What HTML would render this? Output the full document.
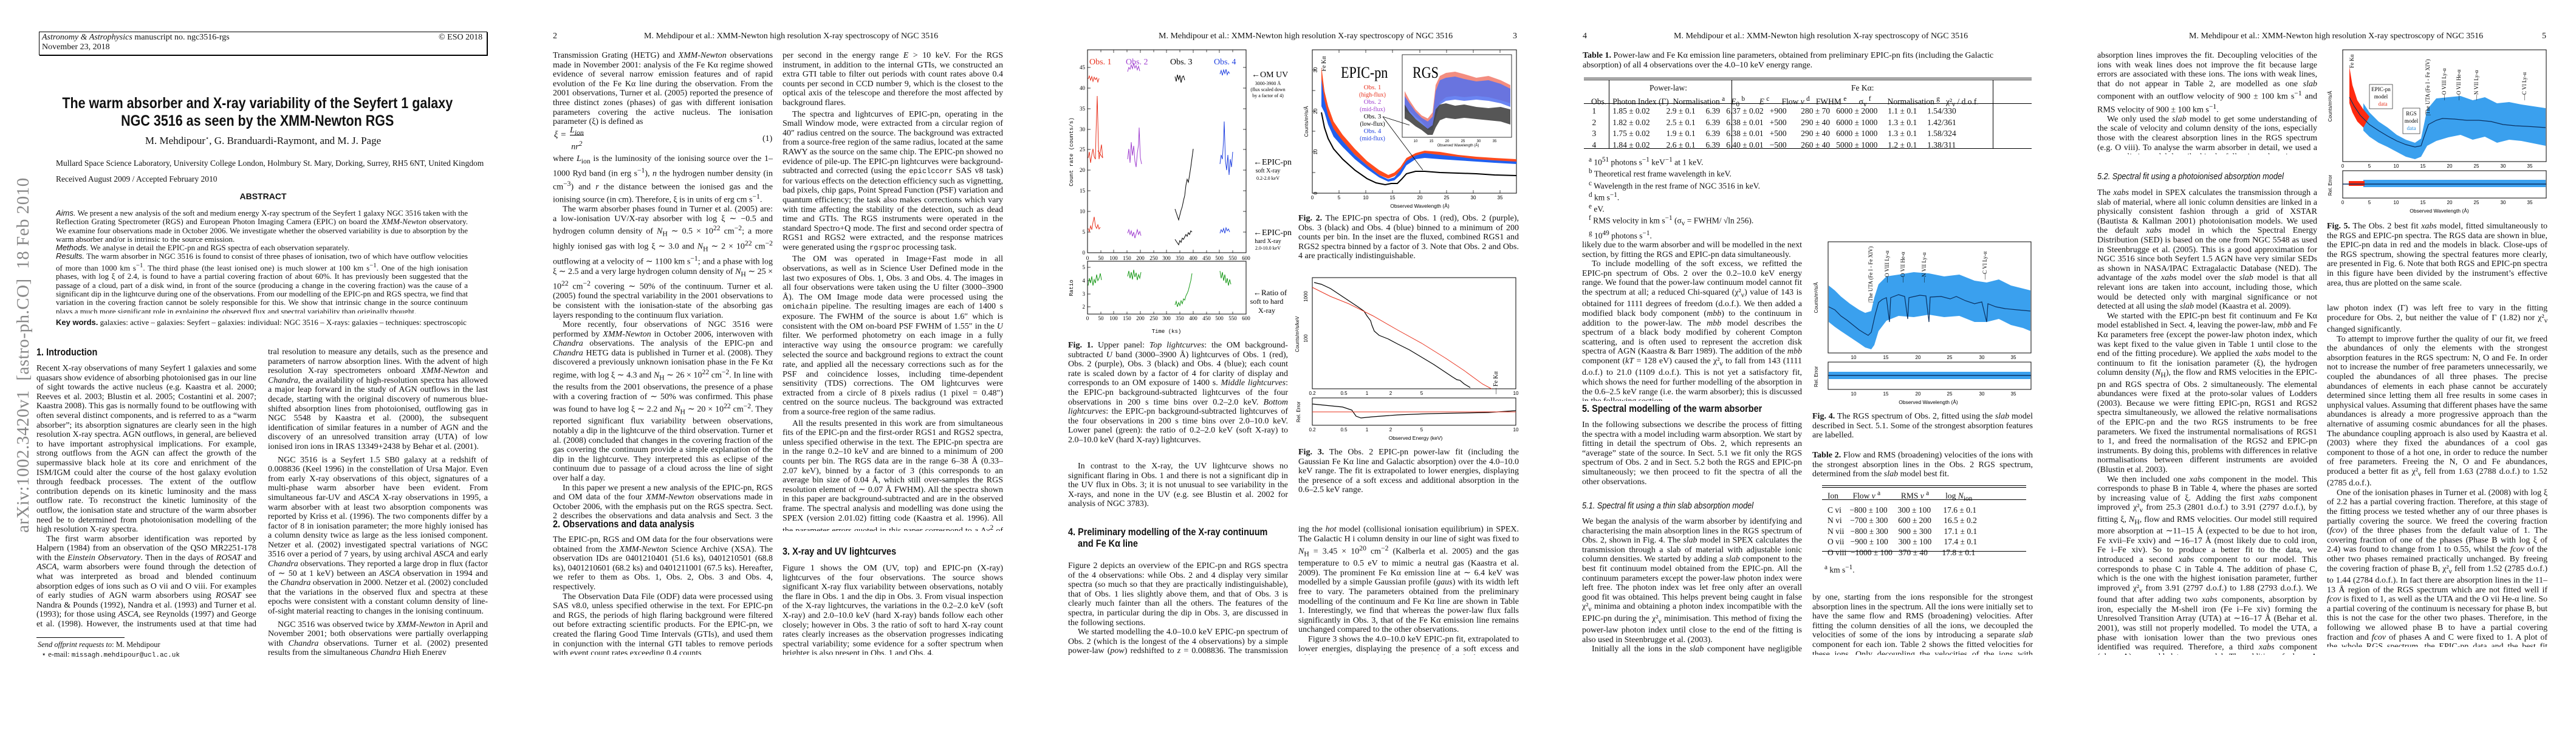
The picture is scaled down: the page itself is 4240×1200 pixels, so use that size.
<!DOCTYPE html>
<html><head><meta charset="utf-8">
<style>
html,body{margin:0;padding:0;background:#fff}
body{width:4240px;height:1200px;position:relative;overflow:hidden;font-family:"Liberation Serif",serif;color:#111}
.a{position:absolute}
.t{position:absolute;font-size:14px;line-height:15.6px;text-align:justify;overflow:hidden;hyphens:auto}
.t p{margin:0;text-indent:16px}
.t p.n{text-indent:0}
.h{position:absolute;font-family:"Liberation Sans",sans-serif;font-weight:bold;font-size:17px;transform:scaleX(0.85);transform-origin:left top;white-space:nowrap}
.hs{position:absolute;font-family:"Liberation Sans",sans-serif;font-style:italic;font-size:15px;transform:scaleX(0.85);transform-origin:left top;white-space:nowrap}
.hd{position:absolute;font-size:14px;top:52px;white-space:nowrap}
.cap{position:absolute;font-size:14px;line-height:15.6px;text-align:justify}
.sm{font-size:11px;font-family:"Liberation Sans",sans-serif}
svg{position:absolute;overflow:visible}
</style></head><body>

<!-- ================= PAGE 1 ================= -->
<div class="a" style="left:64px;top:52px;width:736px;height:37px;border:1.5px solid #000;box-shadow:1px 1px 0 #000"></div>
<div class="a" style="left:69px;top:54px;font-size:14px;line-height:16px"><i>Astronomy &amp; Astrophysics</i> manuscript no. ngc3516-rgs<br>November 23, 2018</div>
<div class="a" style="left:722px;top:54px;font-size:14px">© ESO 2018</div>
<div class="a" style="left:24px;top:321px;width:0;height:0">
 <div style="position:absolute;left:0;top:0;transform:translate(-2px,556px) rotate(-90deg);transform-origin:left top;font-size:29px;color:#888;white-space:nowrap;letter-spacing:0.5px">arXiv:1002.3420v1&nbsp; [astro-ph.CO]&nbsp; 18 Feb 2010</div>
</div>
<div class="a" style="left:0;width:848px;top:156px;text-align:center;font-family:'Liberation Sans',sans-serif;font-weight:bold;font-size:25px;line-height:29px"><span style="display:inline-block;transform:scaleX(0.86)">The warm absorber and X-ray variability of the Seyfert 1 galaxy<br>NGC 3516 as seen by the XMM-Newton RGS</span></div>
<div class="a" style="left:0;width:866px;top:222px;text-align:center;font-size:17px">M. Mehdipour<sup style="font-size:10px">⋆</sup>, G. Branduardi-Raymont, and M. J. Page</div>
<div class="a" style="left:92px;top:261px;font-size:13.5px">Mullard Space Science Laboratory, University College London, Holmbury St. Mary, Dorking, Surrey, RH5 6NT, United Kingdom</div>
<div class="a" style="left:92px;top:287px;font-size:13.5px">Received August 2009 / Accepted February 2010</div>
<div class="a" style="left:0;width:866px;top:315px;text-align:center;font-family:'Liberation Sans',sans-serif;font-weight:bold;font-size:14px">ABSTRACT</div>
<div class="t" style="left:92px;top:344px;width:678px;height:172px;font-size:13px;line-height:14.3px">
<p class="n"><i style="font-family:'Liberation Sans'">Aims.</i> We present a new analysis of the soft and medium energy X-ray spectrum of the Seyfert 1 galaxy NGC 3516 taken with the Reflection Grating Spectrometer (RGS) and European Photon Imaging Camera (EPIC) on board the <i>XMM-Newton</i> observatory. We examine four observations made in October 2006. We investigate whether the observed variability is due to absorption by the warm absorber and/or is intrinsic to the source emission.</p>
<p class="n"><i style="font-family:'Liberation Sans'">Methods.</i> We analyse in detail the EPIC-pn and RGS spectra of each observation separately.</p>
<p class="n"><i style="font-family:'Liberation Sans'">Results.</i> The warm absorber in NGC 3516 is found to consist of three phases of ionisation, two of which have outflow velocities of more than 1000 km s<sup>−1</sup>. The third phase (the least ionised one) is much slower at 100 km s<sup>−1</sup>. One of the high ionisation phases, with log ξ of 2.4, is found to have a partial covering fraction of about 60%. It has previously been suggested that the passage of a cloud, part of a disk wind, in front of the source (producing a change in the covering fraction) was the cause of a significant dip in the lightcurve during one of the observations. From our modelling of the EPIC-pn and RGS spectra, we find that variation in the covering fraction cannot be solely responsible for this. We show that intrinsic change in the source continuum plays a much more significant role in explaining the observed flux and spectral variability than originally thought.</p></div>
<div class="a" style="left:92px;top:523px;font-size:13px"><b style="font-family:'Liberation Sans'">Key words.</b> galaxies: active – galaxies: Seyfert – galaxies: individual: NGC 3516 – X-rays: galaxies – techniques: spectroscopic</div>
<div class="h" style="left:60px;top:570px">1. Introduction</div>
<div class="t" style="left:60px;top:599px;width:362px;height:437px">
<p class="n">Recent X-ray observations of many Seyfert 1 galaxies and some quasars show evidence of absorbing photoionised gas in our line of sight towards the active nucleus (e.g. Kaastra et al. 2000; Reeves et al. 2003; Blustin et al. 2005; Costantini et al. 2007; Kaastra 2008). This gas is normally found to be outflowing with often several distinct components, and is referred to as a “warm absorber”; its absorption signatures are clearly seen in the high resolution X-ray spectra. AGN outflows, in general, are believed to have important astrophysical implications. For example, strong outflows from the AGN can affect the growth of the supermassive black hole at its core and enrichment of the ISM/IGM could alter the course of the host galaxy evolution through feedback processes. The extent of the outflow contribution depends on its kinetic luminosity and the mass outflow rate. To reconstruct the kinetic luminosity of the outflow, the ionisation state and structure of the warm absorber need be to determined from photoionisation modelling of the high resolution X-ray spectra.</p>
<p>The first warm absorber identification was reported by Halpern (1984) from an observation of the QSO MR2251-178 with the <i>Einstein Observatory</i>. Then in the days of <i>ROSAT</i> and <i>ASCA</i>, warm absorbers were found through the detection of what was interpreted as broad and blended continuum absorption edges of ions such as O vii and O viii. For examples of early studies of AGN warm absorbers using <i>ROSAT</i> see Nandra &amp; Pounds (1992), Nandra et al. (1993) and Turner et al. (1993); for those using <i>ASCA</i>, see Reynolds (1997) and George et al. (1998). However, the instruments used at that time had insufficient spec-</p></div>
<div class="a" style="left:60px;top:1049px;width:145px;border-top:1px solid #000"></div>
<div class="a" style="left:62px;top:1053px;font-size:12.5px;line-height:16px"><i>Send offprint requests to</i>: M. Mehdipour<br>&nbsp;&nbsp;⋆ e-mail: <span style="font-family:'Liberation Mono';font-size:11px">missagh.mehdipour@ucl.ac.uk</span></div>
<div class="t" style="left:441px;top:572px;width:362px;height:506px">
<p class="n">tral resolution to measure any details, such as the presence and parameters of narrow absorption lines. With the advent of high resolution X-ray spectrometers onboard <i>XMM-Newton</i> and <i>Chandra</i>, the availability of high-resolution spectra has allowed a major leap forward in the study of AGN outflows in the last decade, starting with the original discovery of numerous blue-shifted absorption lines from photoionised, outflowing gas in NGC 5548 by Kaastra et al. (2000), the subsequent identification of similar features in a number of AGN and the discovery of an unresolved transition array (UTA) of low ionised iron ions in IRAS 13349+2438 by Behar et al. (2001).</p>
<p style="margin-top:6px">NGC 3516 is a Seyfert 1.5 SB0 galaxy at a redshift of 0.008836 (Keel 1996) in the constellation of Ursa Major. Even from early X-ray observations of this object, signatures of a multi-phase warm absorber have been evident. From simultaneous far-UV and <i>ASCA</i> X-ray observations in 1995, a warm absorber with at least two absorption components was reported by Kriss et al. (1996). The two components differ by a factor of 8 in ionisation parameter; the more highly ionised has a column density twice as large as the less ionised component. Netzer et al. (2002) investigated spectral variations of NGC 3516 over a period of 7 years, by using archival <i>ASCA</i> and early <i>Chandra</i> observations. They reported a large drop in flux (factor of ∼ 50 at 1 keV) between an <i>ASCA</i> observation in 1994 and the <i>Chandra</i> observation in 2000. Netzer et al. (2002) concluded that the variations in the observed flux and spectra at these epochs were consistent with a constant column density of line-of-sight material reacting to changes in the ionising continuum.</p>
<p style="margin-top:6px">NGC 3516 was observed twice by <i>XMM-Newton</i> in April and November 2001; both observations were partially overlapping with <i>Chandra</i> observations. Turner et al. (2002) presented results from the simultaneous <i>Chandra</i> High Energy</p></div>

<!-- ================= PAGE 2 ================= -->
<div class="hd" style="left:910px">2</div>
<div class="hd" style="left:1060px">M. Mehdipour et al.: XMM-Newton high resolution X-ray spectroscopy of NGC 3516</div>
<div class="t" style="left:910px;top:84px;width:362px;height:125px">
<p class="n">Transmission Grating (HETG) and <i>XMM-Newton</i> observations made in November 2001: analysis of the Fe Kα regime showed evidence of several narrow emission features and of rapid evolution of the Fe Kα line during the observation. From the 2001 observations, Turner et al. (2005) reported the presence of three distinct zones (phases) of gas with different ionisation parameters covering the active nucleus. The ionisation parameter (ξ) is defined as</p></div>
<div class="a" style="left:912px;top:214px;font-size:15px;font-style:italic">ξ =</div>
<div class="a" style="left:938px;top:206px;font-size:14px;font-style:italic;text-align:center;line-height:18px"><span style="border-bottom:1px solid #000">L<sub>ion</sub></span><br>nr<sup>2</sup></div>
<div class="a" style="left:1255px;top:221px;font-size:14px">(1)</div>
<div class="t" style="left:910px;top:254px;width:362px;height:600px">
<p class="n">where <i>L</i><sub>ion</sub> is the luminosity of the ionising source over the 1–1000 Ryd band (in erg s<sup>−1</sup>), <i>n</i> the hydrogen number density (in cm<sup>−3</sup>) and <i>r</i> the distance between the ionised gas and the ionising source (in cm). Therefore, ξ is in units of erg cm s<sup>−1</sup>.</p>
<p>The warm absorber phases found in Turner et al. (2005) are: a low-ionisation UV/X-ray absorber with log ξ ∼ −0.5 and hydrogen column density of <i>N</i><sub>H</sub> ∼ 0.5 × 10<sup>22</sup> cm<sup>−2</sup>; a more highly ionised gas with log ξ ∼ 3.0 and <i>N</i><sub>H</sub> ∼ 2 × 10<sup>22</sup> cm<sup>−2</sup> outflowing at a velocity of ∼ 1100 km s<sup>−1</sup>; and a phase with log ξ ∼ 2.5 and a very large hydrogen column density of <i>N</i><sub>H</sub> ∼ 25 × 10<sup>22</sup> cm<sup>−2</sup> covering ∼ 50% of the continuum. Turner et al. (2005) found the spectral variability in the 2001 observations to be consistent with the ionisation-state of the absorbing gas layers responding to the continuum flux variation.</p>
<p>More recently, four observations of NGC 3516 were performed by <i>XMM-Newton</i> in October 2006, interwoven with <i>Chandra</i> observations. The analysis of the EPIC-pn and <i>Chandra</i> HETG data is published in Turner et al. (2008). They discovered a previously unknown ionisation phase in the Fe Kα regime, with log ξ ∼ 4.3 and <i>N</i><sub>H</sub> ∼ 26 × 10<sup>22</sup> cm<sup>−2</sup>. In line with the results from the 2001 observations, the presence of a phase with a covering fraction of ∼ 50% was confirmed. This phase was found to have log ξ ∼ 2.2 and <i>N</i><sub>H</sub> ∼ 20 × 10<sup>22</sup> cm<sup>−2</sup>. They reported significant flux variability between observations, notably a dip in the lightcurve of the third observation. Turner et al. (2008) concluded that changes in the covering fraction of the gas covering the continuum provide a simple explanation of the dip in the lightcurve. They interpreted this as eclipse of the continuum due to passage of a cloud across the line of sight over half a day.</p>
<p>In this paper we present a new analysis of the EPIC-pn, RGS and OM data of the four <i>XMM-Newton</i> observations made in October 2006, with the emphasis put on the RGS spectra. Sect. 2 describes the observations and data analysis and Sect. 3 the lightcurves; the spectral modelling is described in Sects. 4 and 5 and we discuss our findings in Sect. 6 and give conclusions in Sect. 7.</p></div>
<div class="h" style="left:910px;top:853px">2. Observations and data analysis</div>
<div class="t" style="left:910px;top:881px;width:362px;height:197px">
<p class="n">The EPIC-pn, RGS and OM data for the four observations were obtained from the <i>XMM-Newton</i> Science Archive (XSA). The observation IDs are 0401210401 (51.6 ks), 0401210501 (68.8 ks), 0401210601 (68.2 ks) and 0401211001 (67.5 ks). Hereafter, we refer to them as Obs. 1, Obs. 2, Obs. 3 and Obs. 4, respectively.</p>
<p>The Observation Data File (ODF) data were processed using SAS v8.0, unless specified otherwise in the text. For EPIC-pn and RGS, the periods of high flaring background were filtered out before extracting scientific products. For the EPIC-pn, we created the flaring Good Time Intervals (GTIs), and used them in conjunction with the internal GTI tables to remove periods with event count rates exceeding 0.4 counts</p></div>
<div class="t" style="left:1288px;top:84px;width:363px;height:790px">
<p class="n">per second in the energy range <i>E</i> &gt; 10 keV. For the RGS instrument, in addition to the internal GTIs, we constructed an extra GTI table to filter out periods with count rates above 0.4 counts per second in CCD number 9, which is the closest to the optical axis of the telescope and therefore the most affected by background flares.</p>
<p style="margin-top:3px">The spectra and lightcurves of EPIC-pn, operating in the Small Window mode, were extracted from a circular region of 40″ radius centred on the source. The background was extracted from a source-free region of the same radius, located at the same RAWY as the source on the same chip. The EPIC-pn showed no evidence of pile-up. The EPIC-pn lightcurves were background-subtracted and corrected (using the <span style="font-family:'Liberation Mono';font-size:12px">epiclccorr</span> SAS v8 task) for various effects on the detection efficiency such as vignetting, bad pixels, chip gaps, Point Spread Function (PSF) variation and quantum efficiency; the task also makes corrections which vary with time affecting the stability of the detection, such as dead time and GTIs. The RGS instruments were operated in the standard Spectro+Q mode. The first and second order spectra of RGS1 and RGS2 were extracted, and the response matrices were generated using the <span style="font-family:'Liberation Mono';font-size:12px">rgsproc</span> processing task.</p>
<p style="margin-top:3px">The OM was operated in Image+Fast mode in all observations, as well as in Science User Defined mode in the last two exposures of Obs. 1, Obs. 3 and Obs. 4. The images in all four observations were taken using the U filter (3000–3900 Å). The OM Image mode data were processed using the <span style="font-family:'Liberation Mono';font-size:12px">omichain</span> pipeline. The resulting images are each of 1400 s exposure. The FWHM of the source is about 1.6″ which is consistent with the OM on-board PSF FWHM of 1.55″ in the <i>U</i> filter. We performed photometry on each image in a fully interactive way using the <span style="font-family:'Liberation Mono';font-size:12px">omsource</span> program: we carefully selected the source and background regions to extract the count rate, and applied all the necessary corrections such as for the PSF and coincidence losses, including time-dependent sensitivity (TDS) corrections. The OM lightcurves were extracted from a circle of 8 pixels radius (1 pixel = 0.48″) centred on the source nucleus. The background was extracted from a source-free region of the same radius.</p>
<p style="margin-top:3px">All the results presented in this work are from simultaneous fits of the EPIC-pn and the first-order RGS1 and RGS2 spectra, unless specified otherwise in the text. The EPIC-pn spectra are in the range 0.2–10 keV and are binned to a minimum of 200 counts per bin. The RGS data are in the range 6–38 Å (0.33–2.07 keV), binned by a factor of 3 (this corresponds to an average bin size of 0.04 Å, which still over-samples the RGS resolution element of ∼ 0.07 Å FWHM). All the spectra shown in this paper are background-subtracted and are in the observed frame. The spectral analysis and modelling was done using the SPEX (version 2.01.02) fitting code (Kaastra et al. 1996). All the parameter errors quoted in this paper correspond to a Δχ<sup>2</sup> of 2.</p></div>
<div class="h" style="left:1288px;top:898px">3. X-ray and UV lightcurves</div>
<div class="t" style="left:1288px;top:928px;width:363px;height:150px">
<p class="n">Figure 1 shows the OM (UV, top) and EPIC-pn (X-ray) lightcurves of the four observations. The source shows significant X-ray flux variability between observations, notably the flare in Obs. 1 and the dip in Obs. 3. From visual inspection of the X-ray lightcurves, the variations in the 0.2–2.0 keV (soft X-ray) and 2.0–10.0 keV (hard X-ray) bands follow each other closely; however in Obs. 3 the ratio of soft to hard X-ray count rates clearly increases as the observation progresses indicating spectral variability; some evidence for a softer spectrum when brighter is also present in Obs. 1 and Obs. 4.</p></div>

<!-- ================= PAGE 3 ================= -->
<div class="hd" style="left:1907px">M. Mehdipour et al.: XMM-Newton high resolution X-ray spectroscopy of NGC 3516</div>
<div class="hd" style="left:2490px">3</div>
<!-- Fig 1 -->
<svg style="left:0;top:0" width="4240" height="1200">
<g fill="none" stroke="#000" stroke-width="1">
<rect x="1790" y="82" width="261" height="334"/>
<rect x="1790" y="430" width="261" height="87"/>
</g>
<g stroke="#000" stroke-width="0.7">
<path d="M1790 416v-5M1812 416v-4M1833 416v-5M1855 416v-4M1877 416v-5M1899 416v-4M1920 416v-5M1942 416v-4M1964 416v-5M1986 416v-4M2007 416v-5M2029 416v-4M1790 82v5M1812 82v4M1833 82v5M1855 82v4M1877 82v5M1899 82v4M1920 82v5M1942 82v4M1964 82v5M1986 82v4M2007 82v5M2029 82v4"/>
<path d="M1790 382h5M1790 348h5M1790 314h5M1790 280h5M1790 246h5M1790 213h5M1790 179h5M1790 145h5M1790 111h5M2051 382h-5M2051 348h-5M2051 314h-5M2051 280h-5M2051 246h-5M2051 213h-5M2051 179h-5M2051 145h-5M2051 111h-5"/>
<path d="M1790 517v-5M1812 517v-4M1833 517v-5M1855 517v-4M1877 517v-5M1899 517v-4M1920 517v-5M1942 517v-4M1964 517v-5M1986 517v-4M2007 517v-5M2029 517v-4M1790 440h5M1790 462h5M1790 484h5M1790 505h5"/>
</g>
<g font-family="Liberation Serif" font-size="9" text-anchor="middle">
<text x="1790" y="428">0</text><text x="1812" y="428">50</text><text x="1833" y="428">100</text><text x="1855" y="428">150</text><text x="1877" y="428">200</text><text x="1899" y="428">250</text><text x="1920" y="428">300</text><text x="1942" y="428">350</text><text x="1964" y="428">400</text><text x="1986" y="428">450</text><text x="2007" y="428">500</text><text x="2029" y="428">550</text><text x="2051" y="428">600</text>
<text x="1790" y="527">0</text><text x="1812" y="527">50</text><text x="1833" y="527">100</text><text x="1855" y="527">150</text><text x="1877" y="527">200</text><text x="1899" y="527">250</text><text x="1920" y="527">300</text><text x="1942" y="527">350</text><text x="1964" y="527">400</text><text x="1986" y="527">450</text><text x="2007" y="527">500</text><text x="2029" y="527">550</text><text x="2051" y="527">600</text>
</g>
<g font-family="Liberation Serif" font-size="9" text-anchor="end">
<text x="1786" y="419">0</text><text x="1786" y="385">5</text><text x="1786" y="351">10</text><text x="1786" y="317">15</text><text x="1786" y="283">20</text><text x="1786" y="249">25</text><text x="1786" y="216">30</text><text x="1786" y="182">35</text><text x="1786" y="148">40</text><text x="1786" y="114">45</text>
<text x="1786" y="443">5</text><text x="1786" y="465">4</text><text x="1786" y="487">3</text><text x="1786" y="508">2</text>
</g>
<text x="1920" y="548" font-family="Liberation Mono" font-size="9" text-anchor="middle">Time (ks)</text>
<text transform="translate(1766,250) rotate(-90)" font-family="Liberation Mono" font-size="9" text-anchor="middle">Count rate (counts/s)</text>
<text transform="translate(1766,474) rotate(-90)" font-family="Liberation Mono" font-size="9" text-anchor="middle">Ratio</text>
<g font-family="Liberation Serif" font-size="14">
<text x="1793" y="106" fill="#e8321e">Obs. 1</text><text x="1853" y="106" fill="#a040d0">Obs. 2</text><text x="1926" y="106">Obs. 3</text><text x="1998" y="106" fill="#2040e0">Obs. 4</text>
<text x="2060" y="127" font-size="14">←OM UV</text>
<text x="2063" y="271" font-size="14">←EPIC-pn</text>
<text x="2063" y="387" font-size="14">←EPIC-pn</text>
<text x="2063" y="486" font-size="13">←Ratio of</text>
</g>
<g font-family="Liberation Serif" font-size="8" text-anchor="middle">
<text x="2087" y="140">3000-3900 Å</text><text x="2087" y="150">(flux scaled down</text><text x="2087" y="160">by a factor of 4)</text>
<text x="2087" y="284" font-size="10">soft X-ray</text><text x="2087" y="296">0.2-2.0 keV</text>
<text x="2087" y="400" font-size="10">hard X-ray</text><text x="2087" y="411">2.0-10.0 keV</text>
<text x="2085" y="500" font-size="12">soft to hard</text><text x="2085" y="515" font-size="12">X-ray</text>
</g>
<g fill="none" stroke-width="1">
<polyline stroke="#e8321e" points="1791,130 1793,125 1795,132 1797,126 1799,134 1801,127 1803,131 1805,128 1807,135 1809,129"/>
<polyline stroke="#e8321e" points="1791,260 1793,250 1795,268 1797,255 1799,245 1801,258 1803,262 1804,220 1806,158 1808,240 1809,262 1811,250 1813,238 1815,260 1807,248"/>
<polyline stroke="#e8321e" points="1791,376 1793,381 1795,372 1797,378 1799,366 1801,357 1803,372 1805,376 1807,370 1809,377 1811,374"/>
<polyline stroke="#a040d0" points="1856,118 1858,111 1860,114 1862,107 1864,113 1866,104 1868,112 1870,108 1872,115 1874,109 1876,117"/>
<polyline stroke="#a040d0" points="1856,262 1858,245 1860,268 1862,234 1864,256 1866,240 1868,265 1870,275 1872,252 1874,238 1875,210 1877,260 1879,270"/>
<polyline stroke="#a040d0" points="1856,384 1858,378 1860,386 1862,380 1864,389 1866,382 1868,392 1870,385 1872,378 1874,386 1876,381 1878,388"/>
<polyline stroke="#000" points="1934,126 1936,134 1938,123 1940,131 1942,124 1944,136 1946,127 1948,125 1950,132"/>
<polyline stroke="#000" points="1934,344 1936,350 1938,356 1940,362 1942,354 1944,346 1946,340 1948,330 1950,322 1952,305 1954,295 1956,300 1958,288 1960,275 1962,260 1964,245"/>
<polyline stroke="#000" points="1934,394 1936,397 1938,400 1940,403 1942,396 1944,399 1946,392 1948,394 1950,390 1952,386 1954,389 1956,383 1958,386 1960,380 1962,382"/>
<polyline stroke="#2040e0" points="2008,122 2010,116 2012,124 2014,115 2016,121 2018,114 2020,123 2022,118 2024,121"/>
<polyline stroke="#2040e0" points="2008,270 2010,255 2012,262 2014,230 2015,200 2017,265 2019,280 2021,255 2023,288 2025,262 2027,275 2029,250"/>
<polyline stroke="#2040e0" points="2008,384 2010,378 2012,382 2014,376 2016,384 2018,375 2020,380 2022,377 2024,382"/>
<polyline stroke="#1a9a1a" points="1791,470 1793,458 1795,466 1797,455 1799,470 1801,460 1803,466 1805,452 1807,462 1809,458 1811,450 1813,461"/>
<polyline stroke="#1a9a1a" points="1856,455 1858,446 1860,458 1862,448 1864,460 1866,444 1868,456 1870,449 1872,461 1874,452 1876,458 1878,448"/>
<polyline stroke="#1a9a1a" points="1934,502 1936,496 1938,505 1940,498 1942,503 1944,495 1946,500 1948,492 1950,494 1952,487 1954,483 1956,478 1958,470 1960,462 1962,450"/>
<polyline stroke="#1a9a1a" points="2008,446 2010,458 2012,448 2014,462 2016,452 2018,466 2020,458 2022,470 2024,460 2026,468"/>
</g>
</svg>
<div class="cap" style="left:1758px;top:561px;width:362px"><b>Fig. 1.</b> Upper panel: <i>Top lightcurves</i>: the OM background-subtracted <i>U</i> band (3000–3900 Å) lightcurves of Obs. 1 (red), Obs. 2 (purple), Obs. 3 (black) and Obs. 4 (blue); each count rate is scaled down by a factor of 4 for clarity of display and corresponds to an OM exposure of 1400 s. <i>Middle lightcurves</i>: the EPIC-pn background-subtracted lightcurves of the four observations in 200 s time bins over 0.2–2.0 keV. <i>Bottom lightcurves</i>: the EPIC-pn background-subtracted lightcurves of the four observations in 200 s time bins over 2.0–10.0 keV. Lower panel (green): the ratio of 0.2–2.0 keV (soft X-ray) to 2.0–10.0 keV (hard X-ray) lightcurves.</div>
<div class="t" style="left:1758px;top:760px;width:362px;height:80px"><p>In contrast to the X-ray, the UV lightcurve shows no significant flaring in Obs. 1 and there is not a significant dip in the UV flux in Obs. 3; it is not unusual to see variability in the X-rays, and none in the UV (e.g. see Blustin et al. 2002 for analysis of NGC 3783).</p></div>
<div class="h" style="left:1758px;top:866px;line-height:19px">4. Preliminary modelling of the X-ray continuum<br>&nbsp;&nbsp;&nbsp;&nbsp;and Fe Kα line</div>
<div class="t" style="left:1758px;top:924px;width:362px;height:154px">
<p class="n">Figure 2 depicts an overview of the EPIC-pn and RGS spectra of the 4 observations: while Obs. 2 and 4 display very similar spectra (so much so that they are practically indistinguishable), that of Obs. 1 lies slightly above them, and that of Obs. 3 is clearly much fainter than all the others. The features of the spectra, in particular during the dip in Obs. 3, are discussed in the following sections.</p>
<p>We started modelling the 4.0–10.0 keV EPIC-pn spectrum of Obs. 2 (which is the longest of the 4 observations) by a simple power-law (<i>pow</i>) redshifted to <i>z</i> = 0.008836. The transmission of the Galactic neutral absorption was included by apply-</p></div>

<!-- Fig 2 & 3 -->
<svg style="left:0;top:0" width="4240" height="1200">
<rect x="2160" y="82" width="336" height="236" fill="none" stroke="#000"/>
<g stroke="#000" stroke-width="0.7">
<path d="M2160 318h5M2160 284h5M2160 250h5M2160 216h5M2160 183h5M2160 149h5M2160 115h5M2204 318v-5M2248 318v-5M2292 318v-5M2337 318v-5M2381 318v-5M2425 318v-5M2469 318v-5M2204 82v5M2248 82v5M2292 82v5M2337 82v5M2381 82v5M2425 82v5M2469 82v5"/>
</g>
<g font-family="Liberation Sans" font-size="8" text-anchor="middle">
<text x="2160" y="328">0</text><text x="2204" y="328">5</text><text x="2248" y="328">10</text><text x="2292" y="328">15</text><text x="2337" y="328">20</text><text x="2381" y="328">25</text><text x="2425" y="328">30</text><text x="2469" y="328">35</text>
<text x="2337" y="342" font-size="8.5">Observed Wavelength (Å)</text>
<text transform="translate(2153,200) rotate(-90)">Counts/m²/s/Å</text>
<text transform="translate(2168,318) rotate(-90)">0</text><text transform="translate(2168,250) rotate(-90)">10</text><text transform="translate(2168,183) rotate(-90)">20</text><text transform="translate(2168,115) rotate(-90)">30</text>
<text transform="translate(2182,105) rotate(-90)" font-family="Liberation Serif" font-size="10">Fe Kα</text>
</g>
<polygon fill="#ff4b1e" points="2175,110 2180,150 2186,175 2195,200 2210,222 2230,245 2250,265 2270,280 2285,288 2295,284 2305,275 2315,260 2330,252 2345,248 2370,250 2400,255 2430,258 2460,260 2496,262 2496,268 2460,266 2430,264 2400,262 2370,258 2345,256 2330,260 2315,268 2305,283 2295,290 2285,294 2270,288 2250,272 2230,255 2210,235 2195,215 2186,195 2180,175 2175,160"/>
<polygon fill="#2060f0" points="2175,130 2180,165 2186,190 2195,212 2210,232 2230,255 2250,272 2270,288 2285,295 2295,292 2305,280 2315,265 2330,256 2345,252 2370,255 2400,258 2430,262 2460,264 2496,266 2496,270 2460,268 2430,266 2400,264 2370,262 2345,260 2330,262 2315,272 2305,288 2295,297 2285,299 2270,292 2250,278 2230,262 2210,242 2195,225 2186,205 2180,185 2175,175"/>
<polyline fill="none" stroke="#000" stroke-width="2" points="2175,185 2180,210 2186,228 2195,245 2210,262 2230,280 2250,294 2265,301 2280,304 2290,302 2300,302 2307,295 2315,286 2330,282 2345,282 2370,284 2400,285 2430,286 2460,288 2496,289"/>
<rect x="2308" y="90" width="180" height="136" fill="#fff" stroke="#000" stroke-width="0.8"/>
<polygon fill="#f07060" opacity="0.8" points="2312,150 2320,165 2330,180 2340,190 2350,195 2358,185 2363,140 2370,125 2380,120 2395,118 2410,122 2430,128 2450,125 2470,132 2486,140 2486,170 2470,165 2450,160 2430,158 2410,160 2395,158 2380,160 2370,168 2363,190 2358,210 2350,212 2340,200 2330,192 2320,182 2312,175"/>
<polygon fill="#5070f0" opacity="0.85" points="2312,158 2320,170 2330,184 2340,194 2350,200 2358,192 2363,150 2370,132 2380,128 2395,126 2410,130 2430,134 2450,132 2470,138 2486,146 2486,176 2470,170 2450,166 2430,164 2410,166 2395,164 2380,166 2370,172 2363,195 2358,214 2350,214 2340,204 2330,196 2320,188 2312,182"/>
<polygon fill="#444" opacity="0.9" points="2312,172 2320,185 2330,196 2340,204 2350,212 2358,206 2363,180 2370,172 2380,170 2395,174 2410,172 2430,176 2450,178 2470,176 2486,180 2486,205 2470,200 2450,198 2430,196 2410,194 2395,196 2380,194 2370,198 2363,210 2358,222 2350,222 2340,214 2330,208 2320,200 2312,195"/>
<g font-family="Liberation Sans" font-size="6" text-anchor="middle"><text x="2330" y="234">10</text><text x="2356" y="234">15</text><text x="2382" y="234">20</text><text x="2408" y="234">25</text><text x="2434" y="234">30</text><text x="2460" y="234">35</text><text x="2400" y="241">Observed Wavelength (Å)</text></g>
<g font-family="Liberation Serif" font-size="26" transform="translate(2207,0) scale(0.85,1) translate(-2207,0)"><text x="2207" y="128">EPIC-pn</text></g>
<g font-family="Liberation Serif" font-size="26" transform="translate(2325,0) scale(0.85,1) translate(-2325,0)"><text x="2325" y="128">RGS</text></g>
<g font-family="Liberation Serif" font-size="11" text-anchor="middle">
<text x="2259" y="147" fill="#e8321e">Obs. 1</text><text x="2259" y="159" fill="#e8321e" font-size="10">(high-flux)</text>
<text x="2259" y="171" fill="#a040d0">Obs. 2</text><text x="2259" y="183" fill="#a040d0" font-size="10">(mid-flux)</text>
<text x="2259" y="195">Obs. 3</text><text x="2259" y="207" font-size="10">(low-flux)</text>
<text x="2259" y="219" fill="#2040e0">Obs. 4</text><text x="2259" y="231" fill="#2040e0" font-size="10">(mid-flux)</text>
</g>
<path d="M2276 192L2320 206M2276 192L2342 280" stroke="#000" stroke-width="0.8" fill="none"/>
<!-- Fig 3 -->
<rect x="2160" y="457" width="335" height="183" fill="none" stroke="#000"/>
<rect x="2160" y="655" width="335" height="45" fill="none" stroke="#000"/>
<polyline fill="none" stroke="#000" stroke-width="1.2" points="2163,465 2175,468 2190,475 2205,485 2220,495 2235,505 2245,512 2250,520 2256,528 2258,535 2262,545 2270,552 2285,558 2300,566 2320,576 2340,588 2360,600 2375,610 2390,620 2398,625 2403,626 2410,632 2420,638"/>
<polyline fill="none" stroke="#e8321e" stroke-width="1" points="2160,473 2190,488 2220,500 2260,520 2300,543 2340,565 2380,590 2410,610 2440,632 2455,640"/>
<path d="M2160 665L2170 666L2190 668L2210 670L2225 675L2232 685L2240 688L2260 686L2300 683L2350 681L2400 680L2450 679L2495 676" stroke="#000" stroke-width="1.2" fill="none"/>
<line x1="2160" y1="678" x2="2495" y2="678" stroke="#e8321e"/>
<g font-family="Liberation Sans" font-size="8" text-anchor="middle">
<text x="2160" y="650">0.2</text><text x="2212" y="650">0.5</text><text x="2250" y="650">1</text><text x="2289" y="650">2</text><text x="2340" y="650">5</text><text x="2495" y="650">10</text>
<text x="2160" y="710">0.2</text><text x="2212" y="710">0.5</text><text x="2250" y="710">1</text><text x="2289" y="710">2</text><text x="2340" y="710">5</text><text x="2495" y="710">10</text>
<text x="2330" y="724" font-size="8.5">Observed Energy (keV)</text>
<text transform="translate(2138,550) rotate(-90)">Counts/m²/s/keV</text>
<text transform="translate(2140,678) rotate(-90)">Rel. Error</text>
<text transform="translate(2152,488) rotate(-90)">1000</text><text transform="translate(2152,557) rotate(-90)">100</text>
<text transform="translate(2465,630) rotate(-90)" font-family="Liberation Serif" font-size="10">— Fe Kα</text>
</g>
</svg>
<div class="cap" style="left:2137px;top:352px;width:363px"><b>Fig. 2.</b> The EPIC-pn spectra of Obs. 1 (red), Obs. 2 (purple), Obs. 3 (black) and Obs. 4 (blue) binned to a minimum of 200 counts per bin. In the inset are the fluxed, combined RGS1 and RGS2 spectra binned by a factor of 3. Note that Obs. 2 and Obs. 4 are practically indistinguishable.</div>
<div class="cap" style="left:2137px;top:737px;width:363px"><b>Fig. 3.</b> The Obs. 2 EPIC-pn power-law fit (including the Gaussian Fe Kα line and Galactic absorption) over the 4.0–10.0 keV range. The fit is extrapolated to lower energies, displaying the presence of a soft excess and additional absorption in the 0.6–2.5 keV range.</div>
<div class="t" style="left:2137px;top:864px;width:363px;height:214px">
<p class="n">ing the <i>hot</i> model (collisional ionisation equilibrium) in SPEX. The Galactic H i column density in our line of sight was fixed to <i>N</i><sub>H</sub> = 3.45 × 10<sup>20</sup> cm<sup>−2</sup> (Kalberla et al. 2005) and the gas temperature to 0.5 eV to mimic a neutral gas (Kaastra et al. 2009). The prominent Fe Kα emission line at ∼ 6.4 keV was modelled by a simple Gaussian profile (<i>gaus</i>) with its width left free to vary. The parameters obtained from the preliminary modelling of the continuum and Fe Kα line are shown in Table 1. Interestingly, we find that whereas the power-law flux falls significantly in Obs. 3, that of the Fe Kα emission line remains unchanged compared to the other observations.</p>
<p>Figure 3 shows the 4.0–10.0 keV EPIC-pn fit, extrapolated to lower energies, displaying the presence of a soft excess and additional absorption in the 0.6–2.5 keV band. The latter is most</p></div>

<!-- ================= PAGE 4 ================= -->
<div class="hd" style="left:2605px">4</div>
<div class="hd" style="left:2755px">M. Mehdipour et al.: XMM-Newton high resolution X-ray spectroscopy of NGC 3516</div>
<div class="cap" style="left:2605px;top:84px;width:740px;text-align:left"><b>Table 1.</b> Power-law and Fe Kα emission line parameters, obtained from preliminary EPIC-pn fits (including the Galactic absorption) of all 4 observations over the 4.0–10 keV energy range.</div>
<div class="a" style="left:2607px;top:128px;width:737px;border-top:1px solid #000;border-bottom:1px solid #000;height:2px"></div>
<div class="a" style="left:2607px;top:244px;width:737px;border-top:1px solid #000"></div>
<div class="a" style="left:2607px;top:170px;width:737px;border-top:1px solid #000"></div>
<div class="a" style="left:2648px;top:132px;height:112px;border-left:1px solid #000"></div>
<div class="a" style="left:2850px;top:132px;height:112px;border-left:1px solid #000"></div>
<div class="a" style="left:3280px;top:132px;height:112px;border-left:1px solid #000"></div>
<div class="a" style="left:2607px;top:136px;width:737px;font-size:13.5px;line-height:18px">
<div style="position:absolute;left:108px;top:0">Power-law:</div>
<div style="position:absolute;left:440px;top:0">Fe Kα:</div>
<div style="position:absolute;left:12px;top:18px;white-space:nowrap">Obs.&nbsp;&nbsp;&nbsp;Photon Index (Γ)&nbsp;&nbsp;Normalisation <sup>a</sup>&nbsp;&nbsp;&nbsp;<i>E</i><sub>0</sub> <sup>b</sup>&nbsp;&nbsp;&nbsp;&nbsp;&nbsp;&nbsp;&nbsp;<i>E</i> <sup>c</sup>&nbsp;&nbsp;&nbsp;&nbsp;&nbsp;&nbsp;Flow <i>v</i> <sup>d</sup>&nbsp;&nbsp;&nbsp;FWHM <sup>e</sup>&nbsp;&nbsp;&nbsp;&nbsp;&nbsp;&nbsp;σ<sub>v</sub> <sup>f</sup>&nbsp;&nbsp;&nbsp;&nbsp;&nbsp;&nbsp;&nbsp;&nbsp;Normalisation <sup>g</sup>&nbsp;&nbsp;&nbsp;χ²<sub>ν</sub> / d.o.f.</div>
<div style="position:absolute;left:0;top:38px;white-space:pre;line-height:18.5px">    1        1.85 ± 0.02        2.9 ± 0.1     6.39   6.37 ± 0.02   +900       280 ± 70   6000 ± 2000     1.1 ± 0.1     1.54/330
    2        1.82 ± 0.02        2.5 ± 0.1     6.39   6.38 ± 0.01   +500       290 ± 40   6000 ± 1000     1.3 ± 0.1     1.42/361
    3        1.75 ± 0.02        1.9 ± 0.1     6.39   6.38 ± 0.01   +500       290 ± 40   6000 ± 1000     1.3 ± 0.1     1.58/324
    4        1.84 ± 0.02        2.6 ± 0.1     6.39   6.40 ± 0.01   −500       260 ± 40   5000 ± 1000     1.2 ± 0.1     1.38/311</div>
</div>
<div class="a" style="left:2615px;top:256px;font-size:13.5px;line-height:15.8px"><sup>a</sup> 10<sup>51</sup> photons s<sup>−1</sup> keV<sup>−1</sup> at 1 keV.<br><sup>b</sup> Theoretical rest frame wavelength in keV.<br><sup>c</sup> Wavelength in the rest frame of NGC 3516 in keV.<br><sup>d</sup> km s<sup>−1</sup>.<br><sup>e</sup> eV.<br><sup>f</sup> RMS velocity in km s<sup>−1</sup> (σ<sub>v</sub> = FWHM/ √ln 256).<br><sup>g</sup> 10<sup>49</sup> photons s<sup>−1</sup>.</div>
<div class="t" style="left:2604px;top:396px;width:362px;height:264px">
<p class="n">likely due to the warm absorber and will be modelled in the next section, by fitting the RGS and EPIC-pn data simultaneously.</p>
<p>To include modelling of the soft excess, we refitted the EPIC-pn spectrum of Obs. 2 over the 0.2–10.0 keV energy range. We found that the power-law continuum model cannot fit the spectrum at all; a reduced Chi-squared (χ²<sub>ν</sub>) value of 143 is obtained for 1111 degrees of freedom (d.o.f.). We then added a modified black body component (<i>mbb</i>) to the continuum in addition to the power-law. The <i>mbb</i> model describes the spectrum of a black body modified by coherent Compton scattering, and is often used to represent the accretion disk spectra of AGN (Kaastra &amp; Barr 1989). The addition of the <i>mbb</i> component (<i>kT</i> = 128 eV) caused the χ²<sub>ν</sub> to fall from 143 (1111 d.o.f.) to 21.0 (1109 d.o.f.). This is not yet a satisfactory fit, which shows the need for further modelling of the absorption in the 0.6–2.5 keV range (i.e. the warm absorber); this is discussed in the following section.</p></div>
<div class="h" style="left:2604px;top:663px">5. Spectral modelling of the warm absorber</div>
<div class="t" style="left:2604px;top:692px;width:362px;height:110px">
<p class="n">In the following subsections we describe the process of fitting the spectra with a model including warm absorption. We start by fitting in detail the spectrum of Obs. 2, which represents an “average” state of the source. In Sect. 5.1 we fit only the RGS spectrum of Obs. 2 and in Sect. 5.2 both the RGS and EPIC-pn simultaneously; we then proceed to fit the spectra of all the other observations.</p></div>
<div class="hs" style="left:2604px;top:824px">5.1. Spectral fit using a thin slab absorption model</div>
<div class="t" style="left:2604px;top:851px;width:362px;height:227px">
<p class="n">We began the analysis of the warm absorber by identifying and characterising the main absorption lines in the RGS spectrum of Obs. 2, shown in Fig. 4. The <i>slab</i> model in SPEX calculates the transmission through a slab of material with adjustable ionic column densities. We started by adding a <i>slab</i> component to the best fit continuum model obtained from the EPIC-pn. All the continuum parameters except the power-law photon index were left free. The photon index was let free only after an overall good fit was obtained. This helps prevent being caught in false χ²<sub>ν</sub> minima and obtaining a photon index incompatible with the EPIC-pn during the χ²<sub>ν</sub> minimisation. This method of fixing the power-law photon index until close to the end of the fitting is also used in Steenbrugge et al. (2003).</p>
<p>Initially all the ions in the <i>slab</i> component have negligible column densities. We fitted the column density of each ion one</p></div>
<!-- Fig 4 -->
<svg style="left:0;top:0" width="4240" height="1200">
<rect x="3009" y="398" width="334" height="183" fill="none" stroke="#000"/>
<rect x="3009" y="596" width="334" height="45" fill="none" stroke="#000"/>
<polygon fill="#3aa0ee" points="3010,470 3020,478 3030,488 3045,500 3060,510 3070,515 3080,512 3085,490 3092,468 3105,455 3125,452 3150,448 3175,450 3200,455 3225,452 3250,462 3270,465 3290,460 3310,470 3330,475 3342,478 3342,545 3330,540 3310,535 3290,525 3270,530 3250,530 3225,520 3200,522 3175,518 3150,522 3125,520 3105,528 3092,545 3085,568 3080,575 3070,572 3060,565 3045,555 3030,545 3020,538 3010,530"/>
<polyline fill="none" stroke="#0a3060" stroke-width="1.2" points="3010,505 3020,510 3030,520 3040,527 3050,535 3060,543 3068,548 3075,552 3080,547 3086,520 3092,498 3098,493 3105,490 3110,530 3112,490 3125,485 3135,488 3140,525 3142,490 3160,486 3170,487 3175,530 3177,489 3195,488 3210,492 3220,488 3235,495 3250,500 3262,497 3270,530 3272,500 3285,505 3300,508 3320,510 3342,512"/>
<rect x="3010" y="612" width="332" height="12" fill="#3aa0ee"/>
<line x1="3009" y1="618" x2="3343" y2="618" stroke="#0a3060" stroke-width="1.5"/>
<g font-family="Liberation Sans" font-size="8" text-anchor="middle">
<text x="3051" y="591">10</text><text x="3104" y="591">15</text><text x="3157" y="591">20</text><text x="3209" y="591">25</text><text x="3262" y="591">30</text><text x="3314" y="591">35</text>
<text x="3051" y="651">10</text><text x="3104" y="651">15</text><text x="3157" y="651">20</text><text x="3209" y="651">25</text><text x="3262" y="651">30</text><text x="3314" y="651">35</text>
<text x="3174" y="665" font-size="8.5">Observed Wavelength (Å)</text>
<text transform="translate(2992,490) rotate(-90)">Counts/m²/s/Å</text>
<text transform="translate(2992,620) rotate(-90)">Rel. Error</text>
</g>
<g font-family="Liberation Serif" font-size="9"><text transform="translate(3082,498) rotate(-90)">|The UTA (Fe I - Fe XIV)</text><text transform="translate(3109,465) rotate(-90)">—O VIII Ly-α</text><text transform="translate(3135,465) rotate(-90)">—O VII He-α</text><text transform="translate(3170,465) rotate(-90)">—N VII Ly-α</text><text transform="translate(3270,460) rotate(-90)">—C VI Ly-α</text></g>
<!-- Fig 5 -->
<rect x="3856" y="82" width="335" height="184" fill="none" stroke="#000"/>
<rect x="3856" y="281" width="335" height="45" fill="none" stroke="#000"/>
<polygon fill="#3aa0ee" points="3890,170 3900,185 3915,200 3930,210 3945,222 3960,230 3975,235 3985,228 3995,180 4010,162 4030,160 4050,158 4070,165 4090,160 4110,170 4130,168 4150,172 4170,175 4190,178 4190,240 4170,236 4150,232 4130,230 4110,235 4090,225 4070,230 4050,222 4030,226 4010,232 3995,240 3985,258 3975,262 3960,258 3945,250 3930,242 3915,235 3900,225 3890,215"/>
<polygon fill="#ff2a10" points="3867,110 3872,140 3880,165 3890,180 3900,192 3890,210 3880,200 3872,185 3867,170"/>
<polyline fill="none" stroke="#0a3060" stroke-width="1.2" points="3867,160 3875,175 3885,190 3900,205 3915,215 3930,224 3945,232 3960,238 3975,242 3985,240 3990,225 3997,205 4010,198 4020,195 4040,196 4060,198 4080,198 4100,200 4120,205 4140,207 4160,208 4190,210"/>
<rect x="3890" y="296" width="300" height="12" fill="#3aa0ee"/><rect x="3866" y="298" width="26" height="8" fill="#ff2a10"/>
<line x1="3856" y1="303" x2="4191" y2="303" stroke="#0a3060" stroke-width="1.5"/>
<g font-family="Liberation Sans" font-size="8" text-anchor="middle">
<text x="3856" y="276">0</text><text x="3900" y="276">5</text><text x="3944" y="276">10</text><text x="3988" y="276">15</text><text x="4032" y="276">20</text><text x="4076" y="276">25</text><text x="4120" y="276">30</text><text x="4164" y="276">35</text>
<text x="3856" y="336">0</text><text x="3900" y="336">5</text><text x="3944" y="336">10</text><text x="3988" y="336">15</text><text x="4032" y="336">20</text><text x="4076" y="336">25</text><text x="4120" y="336">30</text><text x="4164" y="336">35</text>
<text x="4015" y="350" font-size="8.5">Observed Wavelength (Å)</text>
<text transform="translate(3838,175) rotate(-90)">Counts/m²/s/Å</text>
<text transform="translate(3838,305) rotate(-90)">Rel. Error</text>
</g>
<g font-family="Liberation Serif" font-size="9"><text transform="translate(3874,112) rotate(-90)">Fe Kα</text><text transform="translate(3999,190) rotate(-90)">|The UTA (Fe I - Fe XIV)</text><text transform="translate(4026,165) rotate(-90)">—O VIII Ly-α</text><text transform="translate(4050,165) rotate(-90)">—O VII He-α</text><text transform="translate(4079,165) rotate(-90)">—N VII Ly-α</text><text transform="translate(4158,165) rotate(-90)">—C VI Ly-α</text></g>
<g font-family="Liberation Serif" font-size="9" text-anchor="middle"><rect x="3900" y="139" width="38" height="40" fill="#fff" stroke="#000" stroke-width="0.6"/><text x="3919" y="150">EPIC-pn</text><text x="3919" y="162">model</text><text x="3922" y="174" fill="#e8321e">data</text>
<rect x="3955" y="178" width="28" height="42" fill="#fff" stroke="#000" stroke-width="0.6"/><text x="3969" y="190">RGS</text><text x="3969" y="202">model</text><text x="3969" y="214" fill="#2a90e0">data</text></g>
</svg>
<div class="cap" style="left:2983px;top:678px;width:363px"><b>Fig. 4.</b> The RGS spectrum of Obs. 2, fitted using the <i>slab</i> model described in Sect. 5.1. Some of the strongest absorption features are labelled.</div>
<div class="cap" style="left:2983px;top:742px;width:363px"><b>Table 2.</b> Flow and RMS (broadening) velocities of the ions with the strongest absorption lines in the Obs. 2 RGS spectrum, determined from the <i>slab</i> model best fit.</div>
<div class="a" style="left:2999px;top:799px;width:336px;border-top:1px solid #000;border-bottom:1px solid #000;height:2px"></div>
<div class="a" style="left:2999px;top:822px;width:336px;border-top:1px solid #000"></div>
<div class="a" style="left:2999px;top:907px;width:336px;border-top:1px solid #000"></div>
<div class="a" style="left:3008px;top:804px;font-size:13.5px;line-height:17.5px;white-space:pre">Ion       Flow <i>v</i> <sup>a</sup>          RMS <i>v</i> <sup>a</sup>        log <i>N</i><sub>ion</sub>
C vi    −800 ± 100     300 ± 100      17.6 ± 0.1
N vi    −700 ± 300     600 ± 200      16.5 ± 0.2
N vii   −800 ± 300     900 ± 300      17.1 ± 0.1
O vii   −900 ± 100     300 ± 100      17.4 ± 0.1
O viii  −1000 ± 100   370 ± 40       17.8 ± 0.1</div>
<div class="a" style="left:3003px;top:928px;font-size:13.5px"><sup>a</sup> km s<sup>−1</sup>.</div>
<div class="t" style="left:2983px;top:976px;width:363px;height:102px">
<p class="n">by one, starting from the ions responsible for the strongest absorption lines in the spectrum. All the ions were initially set to have the same flow and RMS (broadening) velocities. After fitting the column densities of all the ions, we decoupled the velocities of some of the ions by introducing a separate <i>slab</i> component for each ion. Table 2 shows the fitted velocities for these ions. Only decoupling the velocities of the ions with strong</p></div>

<!-- ================= PAGE 5 ================= -->
<div class="hd" style="left:3603px">M. Mehdipour et al.: XMM-Newton high resolution X-ray spectroscopy of NGC 3516</div>
<div class="hd" style="left:4184px">5</div>
<div class="t" style="left:3452px;top:84px;width:362px;height:170px">
<p class="n">absorption lines improves the fit. Decoupling velocities of the ions with weak lines does not improve the fit because large errors are associated with these ions. The ions with weak lines, that do not appear in Table 2, are modelled as one <i>slab</i> component with an outflow velocity of 900 ± 100 km s<sup>−1</sup> and RMS velocity of 900 ± 100 km s<sup>−1</sup>.</p>
<p>We only used the <i>slab</i> model to get some understanding of the scale of velocity and column density of the ions, especially those with the clearest absorption lines in the RGS spectrum (e.g. O viii). To analyse the warm absorber in detail, we used a more realistic model described in the following subsection.</p></div>
<div class="hs" style="left:3452px;top:282px">5.2. Spectral fit using a photoionised absorption model</div>
<div class="t" style="left:3452px;top:310px;width:362px;height:768px">
<p class="n">The <i>xabs</i> model in SPEX calculates the transmission through a slab of material, where all ionic column densities are linked in a physically consistent fashion through a grid of XSTAR (Bautista &amp; Kallman 2001) photoionisation models. We used the default <i>xabs</i> model in which the Spectral Energy Distribution (SED) is based on the one from NGC 5548 as used in Steenbrugge et al. (2005). This is a good approximation for NGC 3516 since both Seyfert 1.5 AGN have very similar SEDs as shown in NASA/IPAC Extragalactic Database (NED). The advantage of the <i>xabs</i> model over the <i>slab</i> model is that all relevant ions are taken into account, including those, which would be detected only with marginal significance or not detected at all using the <i>slab</i> model (Kaastra et al. 2009).</p>
<p>We started with the EPIC-pn best fit continuum and Fe Kα model established in Sect. 4, leaving the power-law, <i>mbb</i> and Fe Kα parameters free (except the power-law photon index, which was kept fixed to the value given in Table 1 until close to the end of the fitting procedure). We applied the <i>xabs</i> model to the continuum to fit the ionisation parameter (ξ), the hydrogen column density (<i>N</i><sub>H</sub>), the flow and RMS velocities in the EPIC-pn and RGS spectra of Obs. 2 simultaneously. The elemental abundances were fixed at the proto-solar values of Lodders (2003). Because we were fitting EPIC-pn, RGS1 and RGS2 spectra simultaneously, we allowed the relative normalisations of the EPIC-pn and the two RGS instruments to be free parameters. We fixed the instrumental normalisations of RGS1 to 1, and freed the normalisation of the RGS2 and EPIC-pn instruments. By doing this, problems with differences in relative normalisations between different instruments are avoided (Blustin et al. 2003).</p>
<p>We then included one <i>xabs</i> component in the model. This corresponds to phase B in Table 4, where the phases are sorted by increasing value of ξ. Adding the first <i>xabs</i> component improved χ²<sub>ν</sub> from 25.3 (2801 d.o.f.) to 3.91 (2797 d.o.f.), by fitting ξ, <i>N</i><sub>H</sub>, flow and RMS velocities. Our model still required more absorption at ∼11–15 Å (expected to be due to hot iron, Fe xvii–Fe xxiv) and ∼16–17 Å (most likely due to cold iron, Fe i–Fe xiv). So to produce a better fit to the data, we introduced a second <i>xabs</i> component to our model. This corresponds to phase C in Table 4. The addition of phase C, which is the one with the highest ionisation parameter, further improved χ²<sub>ν</sub> from 3.91 (2797 d.o.f.) to 1.88 (2793 d.o.f.). We found that after adding two <i>xabs</i> components, absorption by iron, especially the M-shell iron (Fe i–Fe xiv) forming the Unresolved Transition Array (UTA) at ∼16–17 Å (Behar et al. 2001), was still not properly modelled. To model the UTA, a phase with ionisation lower than the two previous ones identified was required. Therefore, a third <i>xabs</i> component (phase A) was added to our model. The addition of phase A improved χ²<sub>ν</sub> from 1.88 (2793 d.o.f.) to 1.63 (2789 d.o.f.) as the UTA was fitted well. At this point, the power-</p></div>
<div class="cap" style="left:3830px;top:365px;width:363px"><b>Fig. 5.</b> The Obs. 2 best fit <i>xabs</i> model, fitted simultaneously to the RGS and EPIC-pn spectra. The RGS data are shown in blue, the EPIC-pn data in red and the models in black. Close-ups of the RGS spectrum, showing the spectral features more clearly, are presented in Fig. 6. Note that both RGS and EPIC-pn spectra in this figure have been divided by the instrument’s effective area, thus are plotted on the same scale.</div>
<div class="t" style="left:3830px;top:500px;width:363px;height:565px">
<p class="n">law photon index (Γ) was left free to vary in the fitting procedure for Obs. 2, but neither the value of Γ (1.82) nor χ²<sub>ν</sub> changed significantly.</p>
<p>To attempt to improve further the quality of our fit, we freed the abundances of only the elements with the strongest absorption features in the RGS spectrum: N, O and Fe. In order not to increase the number of free parameters unnecessarily, we coupled the abundances of all three phases. The precise abundances of elements in each phase cannot be accurately determined since letting them all free results in some cases in unphysical values. Assuming that different phases have the same abundances is already a more progressive approach than the alternative of assuming cosmic abundances for all the phases. The abundance coupling approach is also used by Kaastra et al. (2003) where they fixed the abundances of a cool gas component to those of a hot one, in order to reduce the number of free parameters. Freeing the N, O and Fe abundances, produced a better fit as χ²<sub>ν</sub> fell from 1.63 (2788 d.o.f.) to 1.52 (2785 d.o.f.).</p>
<p>One of the ionisation phases in Turner et al. (2008) with log ξ of 2.2 has a partial covering fraction. Therefore, at this stage of the fitting process we tested whether any of our three phases is partially covering the source. We freed the covering fraction (<i>fcov</i>) of the three phases from the default value of 1. The covering fraction of one of the phases (Phase B with log ξ of 2.4) was found to change from 1 to 0.55, whilst the <i>fcov</i> of the other two phases remained practically unchanged. By freeing the covering fraction of phase B, χ²<sub>ν</sub> fell from 1.52 (2785 d.o.f.) to 1.44 (2784 d.o.f.). In fact there are absorption lines in the 11–13 Å region of the RGS spectrum which are not fitted well if <i>fcov</i> is fixed to 1, as well as the UTA and the O vii He-α line. So a partial covering of the continuum is necessary for phase B, but this is not the case for the other two phases. Therefore, in the following we allowed phase B to have a partial covering fraction and <i>fcov</i> of phases A and C were fixed to 1. A plot of the whole RGS spectrum, the EPIC-pn data and the best fit model for Obs. 2 is shown in Fig. 5.</p></div>
</body></html>
